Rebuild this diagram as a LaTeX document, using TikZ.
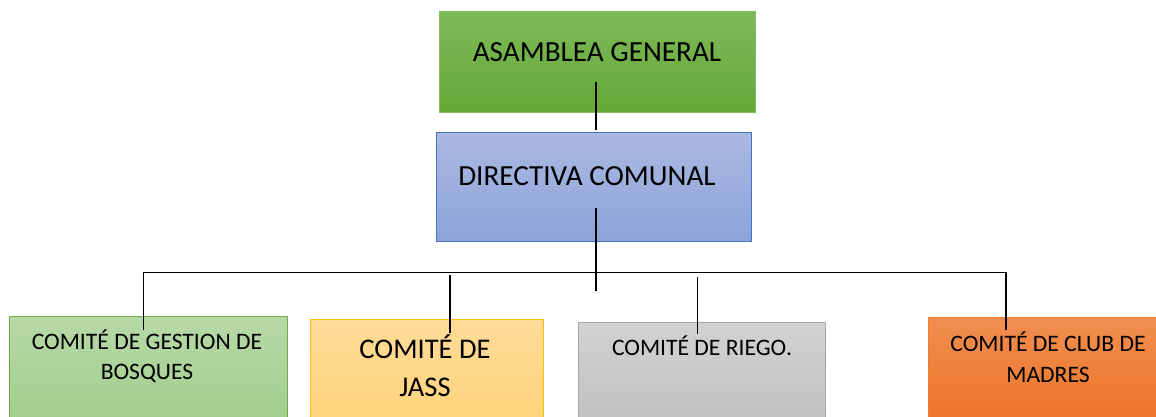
\documentclass[tikz,border=0pt]{standalone}
\usepackage{fontspec}
\setmainfont{Carlito}
\usepackage{tikz}

\definecolor{agtop}{RGB}{126,186,88}
\definecolor{agbot}{RGB}{100,168,56}
\definecolor{agline}{RGB}{130,190,95}
\definecolor{dctop}{RGB}{170,185,226}
\definecolor{dcbot}{RGB}{140,163,216}
\definecolor{dcline}{RGB}{68,114,196}
\definecolor{gbtop}{RGB}{183,217,167}
\definecolor{gbbot}{RGB}{158,203,136}
\definecolor{gbline}{RGB}{112,173,71}
\definecolor{jstop}{RGB}{255,219,152}
\definecolor{jsbot}{RGB}{255,210,118}
\definecolor{jsline}{RGB}{255,192,0}
\definecolor{rgtop}{RGB}{210,210,210}
\definecolor{rgbot}{RGB}{190,190,190}
\definecolor{rgline}{RGB}{165,165,165}
\definecolor{cmtop}{RGB}{241,142,80}
\definecolor{cmbot}{RGB}{235,112,32}
\definecolor{cmline}{RGB}{237,125,49}

\begin{document}
\begin{tikzpicture}[x=1pt,y=-1pt,
  box/.style={line width=1pt,inner sep=0pt},
  lbl/.style={anchor=base,inner sep=0pt,align=center},
  link/.style={line width=1.9pt}]
\useasboundingbox (0,0) rectangle (1156,417);
\clip (0,0) rectangle (1156,417);

% boxes
\node[box,draw=agline,top color=agtop,bottom color=agbot,minimum width=316pt,minimum height=101pt] (ag) at (597,62.5) {};
\node[box,draw=dcline,top color=dctop,bottom color=dcbot,minimum width=315pt,minimum height=108pt] (dc) at (593.5,187) {};
\node[box,draw=gbline,top color=gbtop,bottom color=gbbot,minimum width=278pt,minimum height=124pt] (gb) at (148,378) {};
\node[box,draw=jsline,top color=jstop,bottom color=jsbot,minimum width=233pt,minimum height=121pt] (js) at (426.5,379.5) {};
\node[box,draw=rgline,top color=rgtop,bottom color=rgbot,minimum width=247pt,minimum height=118pt] (rg) at (701.5,381) {};
\node[box,draw=cmline,top color=cmtop,bottom color=cmbot,minimum width=250pt,minimum height=123pt] (cm) at (1053,378.5) {};

% texts (base = last line)
\node[lbl,font=\fontsize{29.2}{35}\selectfont] (agt) at (597,61.5) {ASAMBLEA GENERAL};
\node[lbl,font=\fontsize{29.2}{35}\selectfont] (dct) at (587,185) {DIRECTIVA COMUNAL};
\node[lbl,font=\fontsize{23.6}{30}\selectfont] (gbt) at (147,379.5) {COMITÉ DE GESTION DE\\BOSQUES};
\node[lbl,font=\fontsize{28.5}{38}\selectfont] (jst) at (425,396) {COMITÉ DE\\JASS};
\node[lbl,font=\fontsize{23.6}{30}\selectfont] (rgt) at (702,355) {COMITÉ DE RIEGO.};
\node[lbl,font=\fontsize{23.6}{31}\selectfont] (cmt) at (1048,382) {COMITÉ DE CLUB DE\\MADRES};

% connectors
\coordinate (agin) at (596,82);
\coordinate (dcin) at (596,130);
\coordinate (dcout) at (596,208);
\coordinate (busend) at (596,291);
\coordinate (busl) at (143.5,272.5);
\coordinate (busr) at (1006,272.5);
\coordinate (gbin) at (143.5,330);
\coordinate (jstop) at (450,275);
\coordinate (jsin) at (450,333);
\coordinate (rgtop) at (697.5,277);
\coordinate (rgin) at (697.5,334);
\coordinate (cmin) at (1006,330);
\draw[link] (agin) -- (dcin);
\draw[link] (dcout) -- (busend);
\draw[link] (gbin) -- (busl) -- (busr) -- (cmin);
\draw[link] (jstop) -- (jsin);
\draw[link] (rgtop) -- (rgin);

\end{tikzpicture}
\end{document}
